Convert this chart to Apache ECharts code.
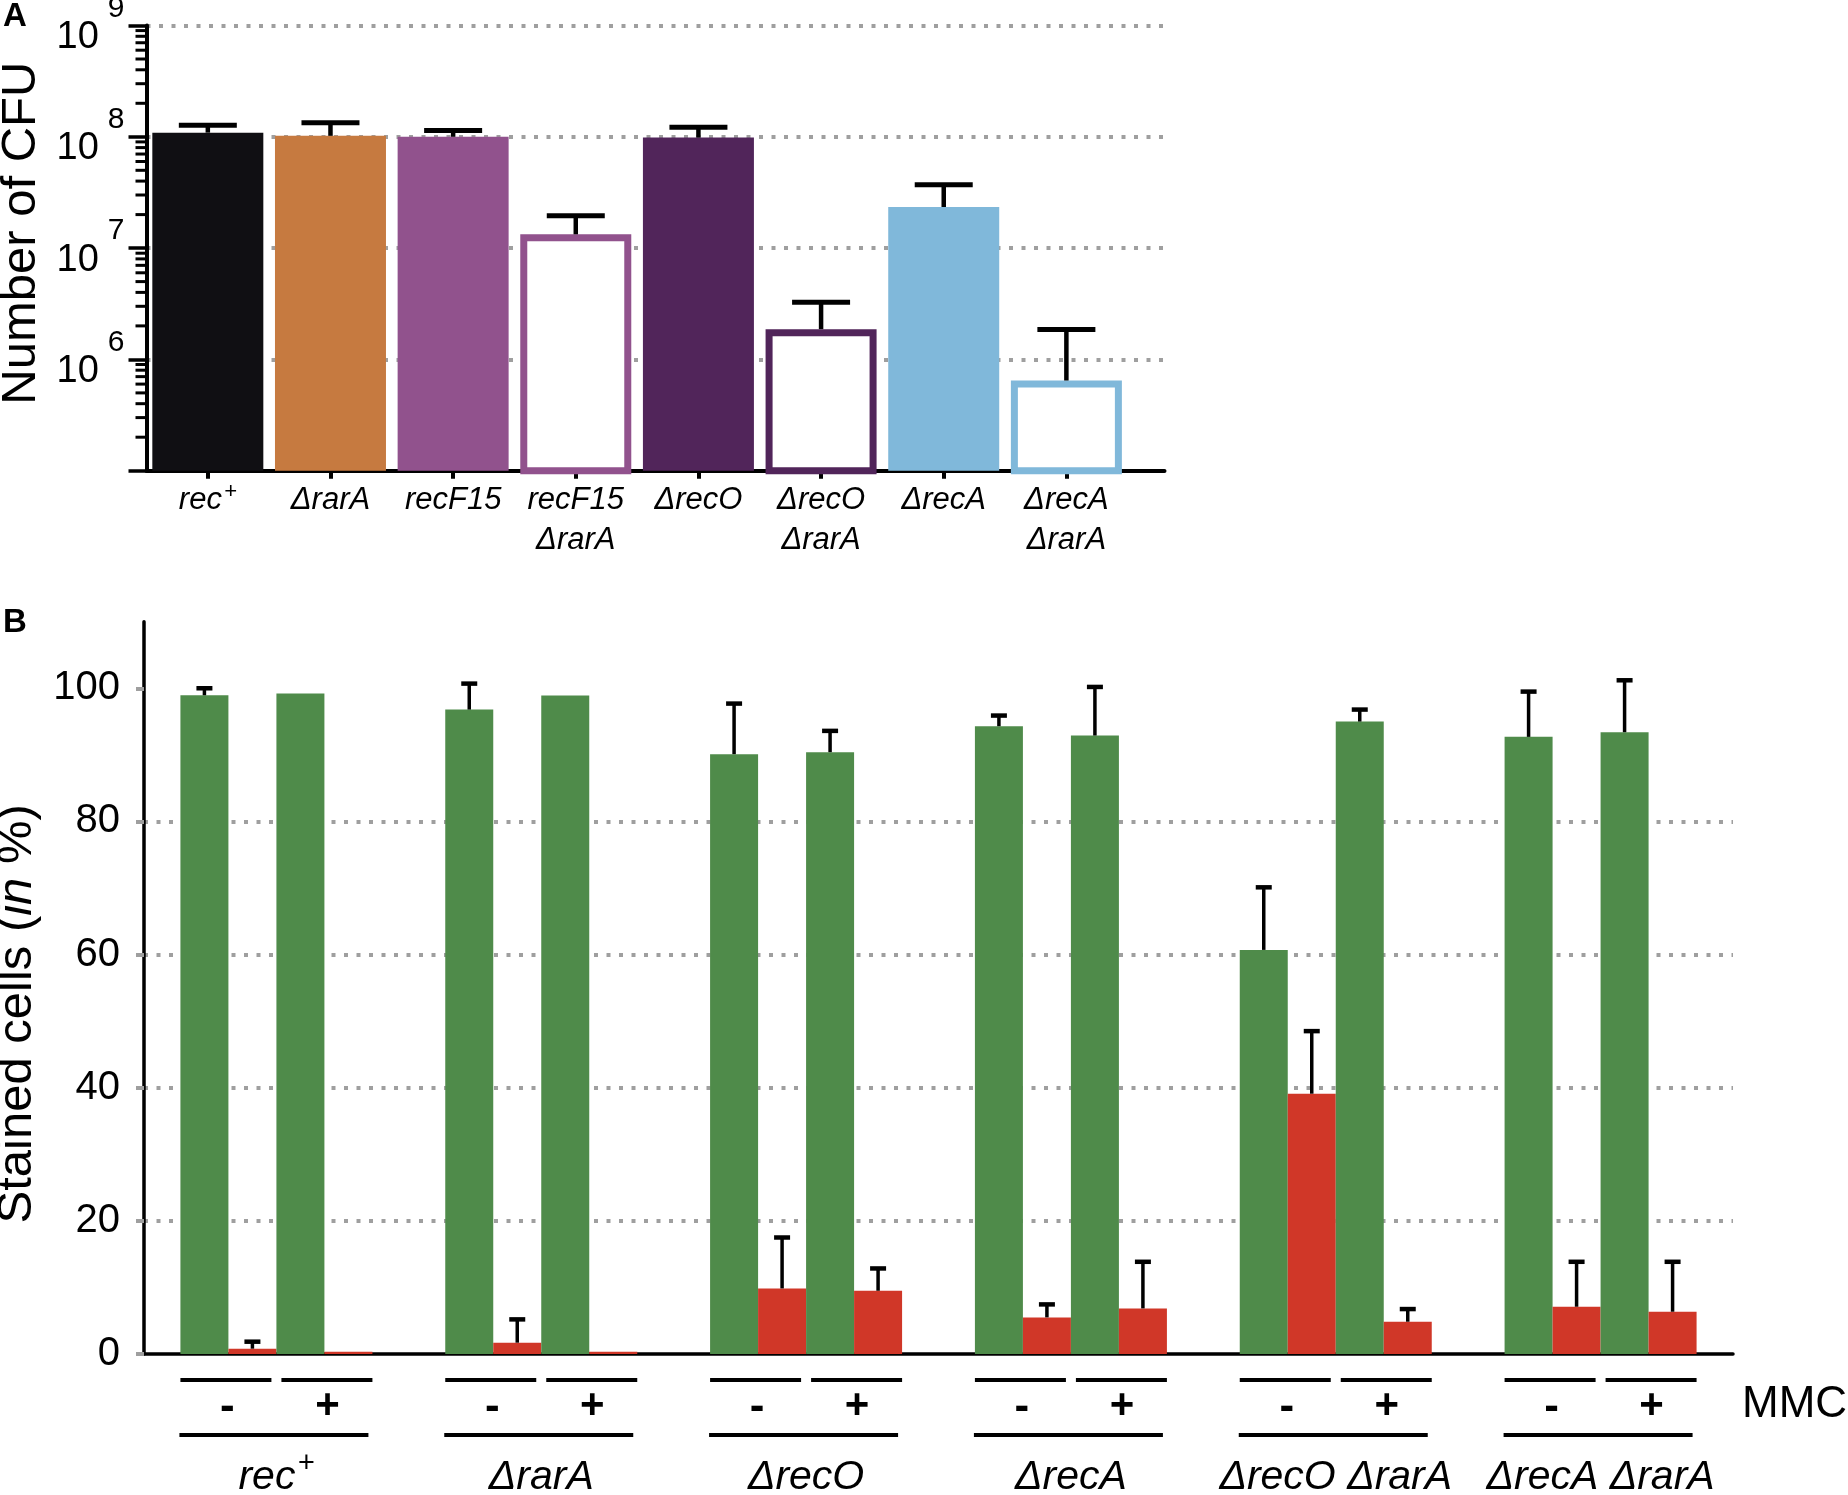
<!DOCTYPE html>
<html><head><meta charset="utf-8">
<script src="https://cdn.jsdelivr.net/npm/echarts@6/dist/echarts.min.js"></script>
<style>html,body{margin:0;padding:0;background:#fff}#c{width:1848px;height:1495px}</style>
</head><body><div id="c"></div>
<script>
// ---------- Panel A data ----------
const CAT_A = ['rec+', 'ΔrarA', 'recF15', 'recF15 ΔrarA', 'ΔrecO', 'ΔrecO ΔrarA', 'ΔrecA', 'ΔrecA ΔrarA'];
const CFU_MEAN  = [1.09e8, 1.02e8, 1.00e8, 1.33e7, 9.85e7, 1.87e6, 2.34e7, 6.46e5];
const CFU_UPPER = [1.27e8, 1.34e8, 1.14e8, 1.95e7, 1.22e8, 3.27e6, 3.71e7, 1.86e6];
const A_COLORS  = ['#100f13', '#c67a40', '#91528d', '#91528d', '#51255a', '#51255a', '#80b8da', '#80b8da'];
const A_HOLLOW  = [false, false, false, true, false, true, false, true];
const A_MINOR_TICKS = [
  2e5, 3e5, 4e5, 5e5, 6e5, 7e5, 8e5, 9e5,
  2e6, 3e6, 4e6, 5e6, 6e6, 7e6, 8e6, 9e6,
  2e7, 3e7, 4e7, 5e7, 6e7, 7e7, 8e7, 9e7,
  2e8, 3e8, 4e8, 5e8, 6e8, 7e8, 8e8, 9e8
];

// ---------- Panel B data ----------
const STRAINS_B = ['rec+', 'ΔrarA', 'ΔrecO', 'ΔrecA', 'ΔrecO ΔrarA', 'ΔrecA ΔrarA'];
const MMC_LABELS = ['-', '+'];
const LIVE_NO_MMC     = [98.95, 96.8, 90.1, 94.3, 60.7, 92.7];
const LIVE_NO_MMC_UP  = [100.0, 100.7, 97.7, 95.9, 70.1, 99.5];
const DEAD_NO_MMC     = [0.8, 1.7, 9.85, 5.5, 39.1, 7.1];
const DEAD_NO_MMC_UP  = [1.85, 5.2, 17.5, 7.45, 48.5, 13.85];
const LIVE_MMC        = [99.2, 98.9, 90.4, 92.9, 95.0, 93.4];
const LIVE_MMC_UP     = [null, null, 93.6, 100.2, 96.8, 101.2];
const DEAD_MMC        = [0.35, 0.35, 9.5, 6.85, 4.85, 6.35];
const DEAD_MMC_UP     = [null, null, 12.85, 13.85, 6.75, 13.85];
const B_TICKS = [0, 20, 40, 60, 80, 100];

const GREEN = '#4f8b4a', RED = '#d03728', GRID_GRAY = '#9f9f9f';
const FONT = 'Liberation Sans, Arial, Helvetica, sans-serif';
const BAR_W_B = 48;
const DOTS = {color: GRID_GRAY, width: 4, type: [4, 8.5]};

function richName(name) {
  return name.split(' ').map(w => w === 'rec+' ? '{i|rec}{s|+}' : '{i|' + w + '}').join('\n');
}
function richNameOneLine(name) {
  return name === 'rec+' ? '{i|rec}{s|+}' : '{i|' + name + '}';
}

const chart = echarts.init(document.getElementById('c'), null, {renderer: 'canvas'});

const aCenters = CAT_A.map((_, i) => i + 0.5);

const seriesB = [
  {vals: LIVE_NO_MMC, ups: LIVE_NO_MMC_UP, color: GREEN},
  {vals: DEAD_NO_MMC, ups: DEAD_NO_MMC_UP, color: RED},
  {vals: LIVE_MMC, ups: LIVE_MMC_UP, color: GREEN},
  {vals: DEAD_MMC, ups: DEAD_MMC_UP, color: RED}
];

const errB = [];
seriesB.forEach((s, k) => s.vals.forEach((v, i) => { if (s.ups[i] != null) errB.push([i, v, s.ups[i], k]); }));

const option = {
  animation: false,
  textStyle: {fontFamily: FONT, color: '#000'},
  title: [
    {text: 'A', left: 3, top: 0, padding: 0, textStyle: {fontSize: 33, fontWeight: 'bold', color: '#000', fontFamily: FONT}},
    {text: 'B', left: 3, top: 606, padding: 0, textStyle: {fontSize: 33, fontWeight: 'bold', color: '#000', fontFamily: FONT}},
    {text: 'MMC', left: 1742, top: 1383, padding: 0, textStyle: {fontSize: 44, fontWeight: 'normal', color: '#000', fontFamily: FONT}}
  ],
  grid: [
    {left: 146.5, top: 25.5, width: 1018, height: 445.2, outerBoundsMode: 'none', containLabel: false},
    {left: 144, top: 621.7, width: 1589, height: 732.3, outerBoundsMode: 'none', containLabel: false}
  ],
  xAxis: [
    {
      type: 'value', gridIndex: 0, min: 0, max: 8.3,
      axisLine: {show: true, lineStyle: {color: '#000', width: 4}},
      axisTick: {show: true, customValues: aCenters, length: 8, lineStyle: {color: '#000', width: 4}},
      axisLabel: {
        show: true, customValues: aCenters, margin: 10, color: '#000',
        formatter: v => richName(CAT_A[Math.round(v - 0.5)]),
        rich: {
          i: {fontSize: 31, fontStyle: 'italic', fontFamily: FONT, lineHeight: 40, color: '#000'},
          s: {fontSize: 22, fontStyle: 'italic', fontFamily: FONT, lineHeight: 40, padding: [0, 0, 18, 2], color: '#000'}
        }
      },
      splitLine: {show: false}
    },
    {
      type: 'category', gridIndex: 1, data: STRAINS_B,
      axisLine: {show: true, lineStyle: {color: '#000', width: 3.5}},
      axisTick: {show: false},
      axisLabel: {
        show: true, interval: 0, margin: 99, color: '#000',
        formatter: v => richNameOneLine(v),
        rich: {
          i: {fontSize: 41, fontStyle: 'italic', fontFamily: FONT, lineHeight: 50, color: '#000'},
          s: {fontSize: 29, fontStyle: 'italic', fontFamily: FONT, lineHeight: 50, padding: [0, 0, 28, 2], color: '#000'}
        }
      },
      splitLine: {show: false}
    }
  ],
  yAxis: [
    {
      type: 'log', logBase: 10, gridIndex: 0, min: 1e5, max: 1e9,
      name: 'Number of CFU', nameLocation: 'middle', nameRotate: 90, nameGap: 100,
      nameTextStyle: {fontSize: 49, color: '#000', fontFamily: FONT, padding: [0, 0, 0, 30]},
      axisLine: {show: true, lineStyle: {color: '#000', width: 4}},
      axisTick: {show: true, length: 18, lineStyle: {color: '#000', width: 3.5}},
      axisLabel: {
        show: true, margin: 22, color: '#000',
        formatter: v => {
          const e = Math.round(Math.log10(v));
          return e <= 5 ? '' : '{a|10}{b|' + e + '}';
        },
        rich: {
          a: {fontSize: 38, fontFamily: FONT, lineHeight: 40, padding: [24, 0, 0, 0], color: '#000'},
          b: {fontSize: 30, fontFamily: FONT, lineHeight: 30, padding: [0, 0, 34, 9], color: '#000'}
        }
      },
      splitLine: {show: true, showMinLine: false, showMaxLine: true, lineStyle: DOTS}
    },
    {
      type: 'value', gridIndex: 1, min: 0, max: 110, interval: 20,
      name: '{n|Stained cells (}{i|in}{n| %)}', nameLocation: 'middle', nameRotate: 90, nameGap: 98,
      nameTextStyle: {
        fontSize: 49, color: '#000', fontFamily: FONT, padding: [0, 52, 0, 0],
        rich: {
          n: {fontSize: 49, fontFamily: FONT, color: '#000'},
          i: {fontSize: 49, fontFamily: FONT, fontStyle: 'italic', color: '#000'}
        }
      },
      axisLine: {show: true, lineStyle: {color: '#000', width: 3.5}},
      axisTick: {show: true, customValues: B_TICKS, length: 8, lineStyle: {color: GRID_GRAY, width: 4}},
      axisLabel: {show: true, customValues: B_TICKS, margin: 24, fontSize: 40, color: '#000', fontFamily: FONT},
      splitLine: {show: true, showMinLine: false, showMaxLine: false, lineStyle: DOTS}
    }
  ],
  series: [
    {
      type: 'bar', xAxisIndex: 0, yAxisIndex: 0, barWidth: 111, clip: true,
      data: CFU_MEAN.map((v, i) => ({
        value: [aCenters[i], v],
        itemStyle: A_HOLLOW[i] ? {color: '#ffffff', borderColor: A_COLORS[i], borderWidth: 7} : {color: A_COLORS[i], borderWidth: 0}
      }))
    },
    {
      type: 'custom', xAxisIndex: 0, yAxisIndex: 0, z: 5, clip: false,
      encode: {x: 0, y: [1, 2]},
      data: CFU_MEAN.map((v, i) => [aCenters[i], v, CFU_UPPER[i]]),
      renderItem: (params, api) => {
        const x = api.value(0);
        const lo = api.coord([x, api.value(1)]);
        const hi = api.coord([x, api.value(2)]);
        return {type: 'group', children: [
          {type: 'line', shape: {x1: lo[0], y1: lo[1], x2: hi[0], y2: hi[1]}, style: {stroke: '#000', lineWidth: 4.5}},
          {type: 'line', shape: {x1: hi[0] - 29, y1: hi[1], x2: hi[0] + 29, y2: hi[1]}, style: {stroke: '#000', lineWidth: 5}}
        ]};
      }
    },
    {
      type: 'custom', xAxisIndex: 0, yAxisIndex: 0, z: 5, clip: false,
      encode: {x: 0, y: 1},
      data: A_MINOR_TICKS.map(v => [0, v]),
      renderItem: (params, api) => {
        const p = api.coord([0, api.value(1)]);
        return {type: 'line', shape: {x1: p[0] - 11, y1: p[1], x2: p[0], y2: p[1]}, style: {stroke: '#000', lineWidth: 3}};
      }
    },
    ...seriesB.map(s => ({
      type: 'bar', xAxisIndex: 1, yAxisIndex: 1, barWidth: BAR_W_B, barGap: '0%',
      itemStyle: {color: s.color},
      data: s.vals
    })),
    {
      type: 'custom', xAxisIndex: 1, yAxisIndex: 1, z: 5, clip: false,
      encode: {x: 0, y: [1, 2]},
      data: errB,
      renderItem: (params, api) => {
        const i = api.value(0), k = api.value(3);
        const lo = api.coord([i, api.value(1)]);
        const hi = api.coord([i, api.value(2)]);
        const x = lo[0] + (k - 1.5) * BAR_W_B;
        return {type: 'group', children: [
          {type: 'line', shape: {x1: x, y1: lo[1], x2: x, y2: hi[1]}, style: {stroke: '#000', lineWidth: 3.5}},
          {type: 'line', shape: {x1: x - 8, y1: hi[1], x2: x + 8, y2: hi[1]}, style: {stroke: '#000', lineWidth: 4.5}}
        ]};
      }
    },
    {
      type: 'custom', xAxisIndex: 1, yAxisIndex: 1, z: 5, clip: false,
      encode: {x: 0, y: 1},
      data: STRAINS_B.map((_, i) => [i, 0]),
      renderItem: (params, api) => {
        const p = api.coord([api.value(0), 0]);
        const c = p[0], y0 = p[1];
        const ln = (x1, x2, y) => ({type: 'line', shape: {x1: c + x1, y1: y, x2: c + x2, y2: y}, style: {stroke: '#000', lineWidth: 4}});
        const tx = (t, dx, dy, w, fs) => ({type: 'text', x: c + dx, y: y0 + dy, style: {text: t, fontSize: fs, fontWeight: w, fontFamily: FONT, fill: '#000', align: 'center', verticalAlign: 'middle'}});
        return {type: 'group', children: [
          ln(-96, -5, y0 + 26),
          ln(5, 96, y0 + 26),
          tx(MMC_LABELS[0], -49, 54, 'bold', 44),
          tx(MMC_LABELS[1], 51, 52, 'bold', 42),
          ln(-97, 92, y0 + 81)
        ]};
      }
    }
  ]
};
chart.setOption(option);
</script>
</body></html>
